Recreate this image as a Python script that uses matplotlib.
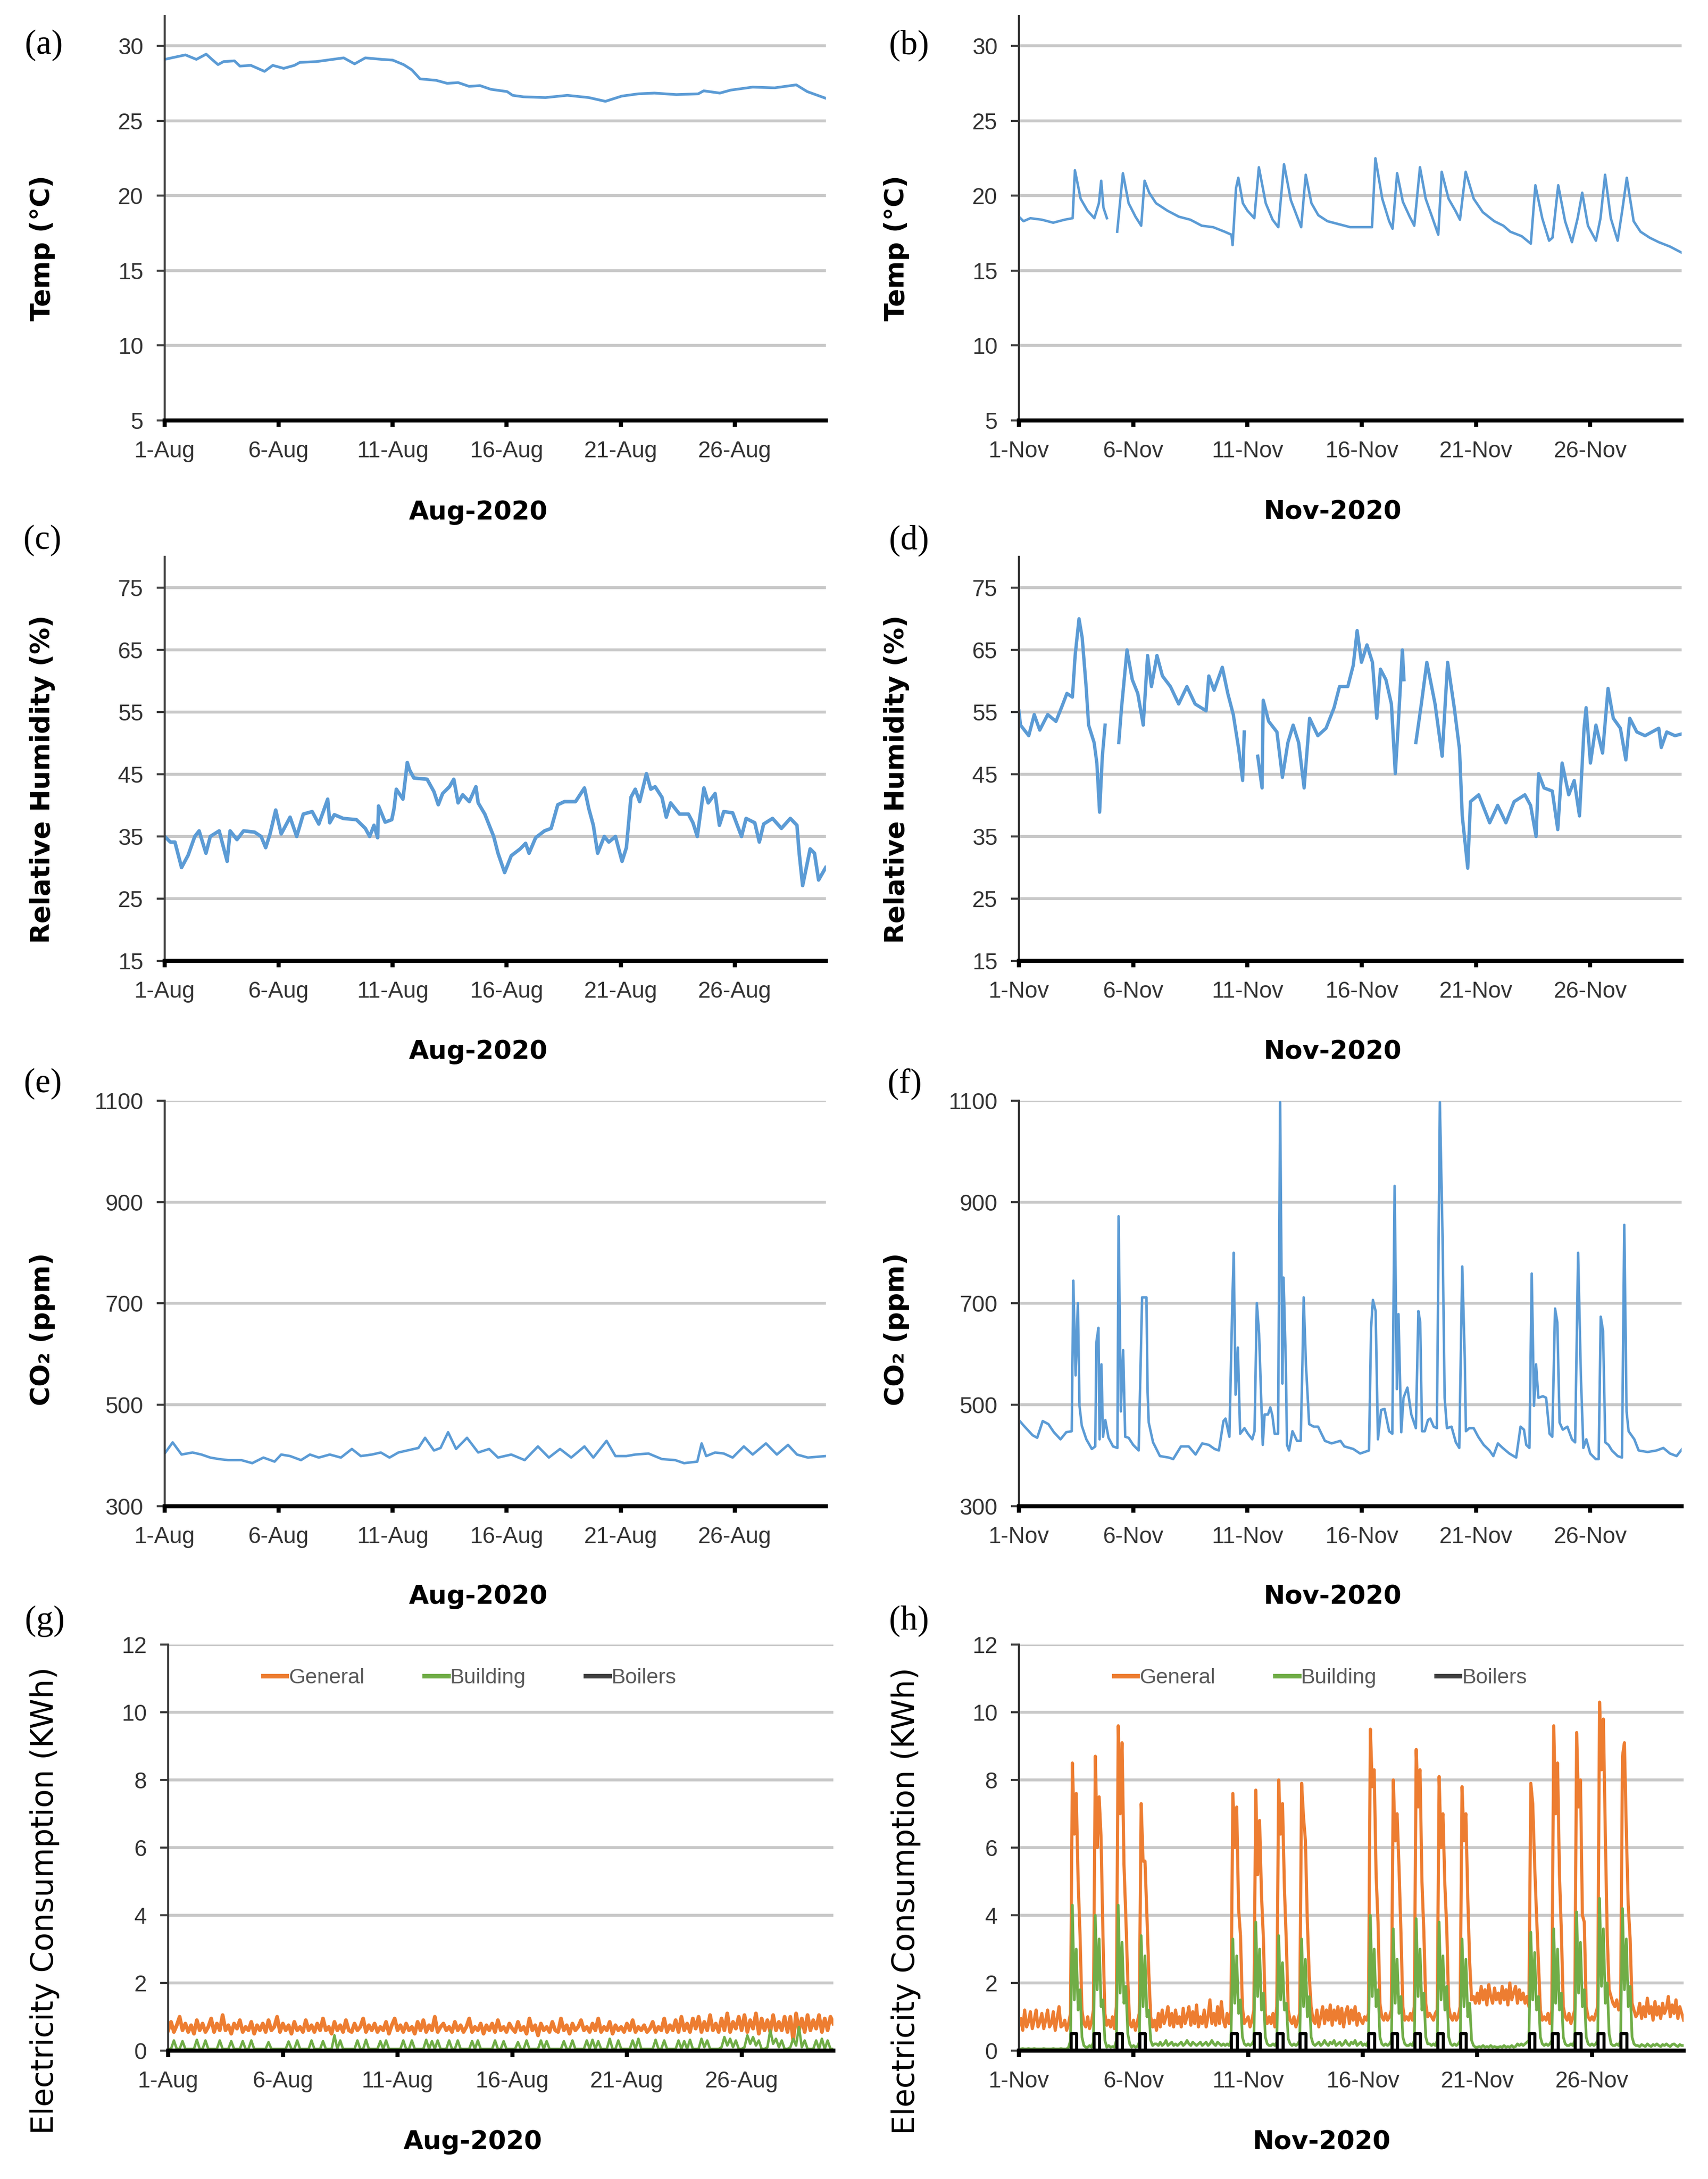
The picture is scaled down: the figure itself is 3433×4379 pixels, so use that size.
import numpy as np
import matplotlib
matplotlib.use('Agg')
import matplotlib.pyplot as plt
from matplotlib.lines import Line2D

nan = float('nan')

# ---------------- data (t = days since the 1st of the month, value) ----------------
temp_aug = [(0, 29.1), (0.91, 29.4), (1.39, 29.1), (1.82, 29.45), (2.11, 29.05), (2.34, 28.75),
            (2.58, 28.95), (3.06, 29.0), (3.30, 28.65), (3.78, 28.7), (4.38, 28.3), (4.74, 28.7),
            (5.22, 28.5), (5.69, 28.7), (5.93, 28.9), (6.65, 28.95), (7.13, 29.05), (7.85, 29.2),
            (8.33, 28.8), (8.80, 29.2), (9.52, 29.1), (10.0, 29.05), (10.48, 28.75), (10.84, 28.4),
            (11.2, 27.8), (11.91, 27.7), (12.39, 27.5), (12.87, 27.55), (13.35, 27.3), (13.83, 27.35),
            (14.31, 27.1), (15.02, 26.95), (15.26, 26.7), (15.74, 26.6), (16.7, 26.55), (17.66, 26.7),
            (18.6, 26.55), (19.33, 26.3), (20.05, 26.65), (20.77, 26.8), (21.48, 26.85), (22.44, 26.75),
            (23.4, 26.8), (23.64, 27.0), (24.35, 26.85), (24.83, 27.05), (25.79, 27.25), (26.75, 27.2),
            (27.7, 27.4), (28.18, 26.95), (29.0, 26.5)]

temp_nov = [(0, 18.6), (0.2, 18.3), (0.5, 18.5), (1.0, 18.4), (1.5, 18.2), (2.0, 18.4), (2.35, 18.5),
            (2.45, 21.7), (2.7, 19.8), (3.0, 19.0), (3.3, 18.5), (3.5, 19.5), (3.6, 21.0), (3.7, 19.2),
            (3.85, 18.5), (3.95, nan), (4.3, 17.6), (4.55, 21.5), (4.8, 19.5), (5.1, 18.6), (5.35, 18.0),
            (5.5, 21.0), (5.7, 20.2), (6.0, 19.5), (6.5, 19.0), (7.0, 18.6), (7.5, 18.4), (8.0, 18.0),
            (8.5, 17.9), (9.0, 17.6), (9.3, 17.4), (9.35, 16.7), (9.5, 20.5), (9.6, 21.2), (9.8, 19.5),
            (10.0, 19.0), (10.3, 18.5), (10.5, 21.9), (10.8, 19.5), (11.1, 18.4), (11.35, 17.9),
            (11.6, 22.1), (11.9, 19.7), (12.2, 18.5), (12.35, 17.9), (12.55, 21.4), (12.8, 19.5),
            (13.1, 18.7), (13.5, 18.3), (14.0, 18.1), (14.5, 17.9), (15.0, 17.9), (15.45, 17.9),
            (15.6, 22.5), (15.9, 19.8), (16.2, 18.3), (16.35, 17.8), (16.55, 21.5), (16.8, 19.6),
            (17.1, 18.6), (17.3, 18.0), (17.55, 21.9), (17.8, 19.8), (18.1, 18.5), (18.35, 17.4),
            (18.5, 21.6), (18.8, 19.8), (19.1, 19.0), (19.3, 18.4), (19.55, 21.6), (19.9, 19.8),
            (20.3, 18.9), (20.8, 18.3), (21.2, 18.0), (21.5, 17.6), (22.0, 17.3), (22.4, 16.8),
            (22.6, 20.7), (22.9, 18.5), (23.2, 17.0), (23.35, 17.2), (23.6, 20.7), (23.9, 18.3),
            (24.2, 16.9), (24.45, 18.5), (24.65, 20.2), (24.9, 18.0), (25.25, 17.0), (25.45, 18.5),
            (25.65, 21.4), (25.9, 18.5), (26.2, 17.0), (26.4, 19.0), (26.6, 21.2), (26.9, 18.3),
            (27.2, 17.6), (27.6, 17.2), (28.0, 16.9), (28.5, 16.6), (29.0, 16.2)]

rh_aug = [(0.00, 35.0), (0.25, 34.1), (0.45, 34.1), (0.74, 30.0), (1.03, 32.0), (1.32, 35.0), (1.51, 35.9),
          (1.81, 32.3), (2.00, 35.0), (2.39, 35.9), (2.74, 31.0), (2.87, 35.9), (3.17, 34.5), (3.46, 35.9),
          (3.94, 35.7), (4.23, 35.0), (4.43, 33.2), (4.62, 35.4), (4.87, 39.25), (5.11, 35.4), (5.50, 38.1),
          (5.79, 35.0), (6.08, 38.6), (6.47, 39.0), (6.76, 37.0), (7.15, 41.0), (7.24, 37.2), (7.44, 38.5),
          (7.83, 37.9), (8.41, 37.7), (8.80, 36.3), (8.99, 35.0), (9.18, 36.8), (9.34, 34.8), (9.38, 39.9),
          (9.67, 37.3), (9.96, 37.7), (10.06, 39.5), (10.16, 42.6), (10.45, 41.0), (10.64, 46.9),
          (10.74, 45.7), (10.93, 44.4), (11.51, 44.2), (11.81, 42.2), (12.00, 40.1), (12.19, 41.9),
          (12.49, 43.0), (12.68, 44.2), (12.87, 40.4), (13.07, 41.7), (13.36, 40.6), (13.65, 43.0),
          (13.75, 40.4), (14.04, 38.6), (14.43, 35.0), (14.62, 32.3), (14.91, 29.2), (15.20, 31.9),
          (15.59, 33.0), (15.83, 33.9), (15.98, 32.3), (16.27, 34.8), (16.66, 35.9), (16.95, 36.3),
          (17.24, 40.1), (17.53, 40.6), (18.02, 40.6), (18.41, 42.8), (18.60, 39.5), (18.80, 36.8),
          (18.99, 32.3), (19.28, 35.0), (19.48, 34.1), (19.77, 35.0), (20.06, 31.0), (20.25, 33.2),
          (20.45, 41.3), (20.64, 42.6), (20.83, 40.6), (21.13, 45.1), (21.32, 42.6), (21.51, 43.0),
          (21.81, 41.3), (22.00, 38.1), (22.19, 40.4), (22.58, 38.6), (22.97, 38.6), (23.17, 37.2),
          (23.36, 35.0), (23.65, 42.8), (23.84, 40.4), (24.14, 41.9), (24.33, 36.8), (24.52, 39.0),
          (24.91, 38.8), (25.30, 35.0), (25.50, 37.9), (25.88, 37.2), (26.08, 34.1), (26.27, 37.0),
          (26.66, 37.9), (27.05, 36.3), (27.44, 37.9), (27.73, 36.8), (27.83, 32.3), (27.98, 27.1),
          (28.31, 33.0), (28.50, 32.3), (28.68, 28.0), (28.99, 30.0)]

rh_nov = [(0.00, 55.2), (0.07, 52.9), (0.43, 51.2), (0.67, 54.6), (0.91, 52.1), (1.26, 54.6), (1.62, 53.5),
          (1.86, 55.7), (2.10, 58.0), (2.34, 57.4), (2.46, 64.1), (2.63, 70.0), (2.77, 66.9), (2.94, 59.1),
          (3.05, 52.9), (3.29, 50.1), (3.41, 46.8), (3.53, 38.9), (3.65, 47.9), (3.77, 52.9), (4.0, nan),
          (4.37, 50.1), (4.49, 55.7), (4.73, 65.0), (4.96, 60.2), (5.20, 58.0), (5.44, 52.9), (5.63, 64.1),
          (5.80, 59.1), (6.04, 64.1), (6.28, 60.8), (6.63, 59.1), (6.99, 56.3), (7.35, 59.1), (7.71, 56.3),
          (8.19, 55.2), (8.31, 60.8), (8.54, 58.5), (8.90, 62.2), (9.14, 58.0), (9.38, 54.6), (9.62, 49.0),
          (9.79, 44.0), (9.86, 51.8), (10.1, nan), (10.45, 47.9), (10.64, 42.8), (10.69, 56.9), (10.93, 53.5),
          (11.29, 51.8), (11.53, 44.5), (11.77, 50.1), (12.00, 52.9), (12.24, 50.1), (12.48, 42.8),
          (12.72, 54.0), (13.08, 51.2), (13.44, 52.4), (13.79, 55.7), (14.03, 59.1), (14.39, 59.1),
          (14.63, 62.5), (14.80, 68.1), (14.99, 63.0), (15.23, 65.8), (15.47, 63.0), (15.66, 54.0),
          (15.82, 61.9), (16.06, 60.2), (16.30, 56.3), (16.47, 45.1), (16.59, 52.4), (16.78, 65.0),
          (16.85, 60.2), (17.1, nan), (17.37, 50.1), (17.61, 56.3), (17.85, 63.0), (18.21, 56.3),
          (18.52, 47.9), (18.76, 63.0), (19.05, 55.7), (19.28, 49.0), (19.40, 38.3), (19.64, 29.9),
          (19.76, 40.6), (20.12, 41.7), (20.60, 37.2), (20.95, 40.0), (21.31, 37.2), (21.67, 40.6),
          (22.14, 41.7), (22.39, 40.0), (22.63, 35.0), (22.74, 45.1), (22.98, 42.8), (23.34, 42.3),
          (23.58, 36.1), (23.77, 46.8), (24.06, 41.7), (24.30, 44.0), (24.53, 38.3), (24.73, 52.4),
          (24.82, 55.7), (25.01, 46.8), (25.25, 52.9), (25.54, 48.4), (25.78, 58.8), (26.01, 54.0),
          (26.32, 52.4), (26.56, 47.3), (26.73, 54.0), (27.04, 51.8), (27.40, 51.2), (28.00, 52.4),
          (28.11, 49.3), (28.35, 51.8), (28.71, 51.2), (29.02, 51.5)]

co2_aug = [(0, 404), (0.35, 426), (0.74, 402), (1.22, 406), (1.61, 402), (2.00, 396), (2.39, 393),
           (2.78, 391), (3.36, 391), (3.84, 385), (4.33, 396), (4.82, 388), (5.11, 402), (5.50, 399),
           (5.98, 391), (6.37, 402), (6.76, 396), (7.24, 402), (7.73, 396), (8.21, 413), (8.60, 399),
           (9.09, 402), (9.48, 406), (9.86, 396), (10.25, 406), (10.93, 413), (11.13, 415), (11.42, 435),
           (11.81, 410), (12.10, 415), (12.43, 446), (12.78, 413), (13.26, 435), (13.75, 406), (14.23, 413),
           (14.62, 396), (15.20, 402), (15.79, 391), (16.37, 418), (16.85, 396), (17.34, 413), (17.83, 396),
           (18.41, 418), (18.80, 396), (19.38, 429), (19.77, 399), (20.25, 399), (20.64, 402), (21.22, 404),
           (21.81, 393), (22.39, 391), (22.78, 385), (23.36, 388), (23.55, 424), (23.75, 399), (24.14, 406),
           (24.52, 404), (24.91, 396), (25.40, 418), (25.79, 402), (26.37, 424), (26.85, 402), (27.34, 421),
           (27.73, 402), (28.21, 396), (28.99, 399)]

co2_nov = [(0, 470), (0.21, 459), (0.60, 440), (0.80, 435), (1.04, 468), (1.29, 462), (1.53, 446),
           (1.82, 432), (2.07, 446), (2.31, 448), (2.38, 745), (2.48, 558), (2.58, 701), (2.65, 498),
           (2.75, 459), (2.95, 432), (3.19, 413), (3.34, 418), (3.39, 624), (3.48, 652), (3.53, 432),
           (3.61, 580), (3.68, 437), (3.78, 470), (3.92, 435), (4.12, 418), (4.31, 415), (4.36, 872),
           (4.46, 487), (4.56, 608), (4.65, 437), (4.80, 435), (5.00, 421), (5.24, 410), (5.39, 712),
           (5.58, 712), (5.63, 525), (5.68, 465), (5.87, 426), (6.17, 399), (6.56, 396), (6.75, 393),
           (7.09, 418), (7.43, 418), (7.73, 402), (8.02, 424), (8.31, 421), (8.56, 413), (8.75, 410),
           (8.95, 468), (9.04, 473), (9.21, 437), (9.34, 707), (9.40, 800), (9.48, 520), (9.58, 613),
           (9.68, 443), (9.87, 454), (10.02, 443), (10.21, 432), (10.31, 448), (10.41, 701), (10.51, 641),
           (10.60, 514), (10.67, 421), (10.75, 481), (10.90, 481), (11.00, 495), (11.09, 479), (11.19, 443),
           (11.34, 443), (11.43, 1097), (11.53, 542), (11.58, 751), (11.68, 580), (11.73, 421), (11.82, 410),
           (11.97, 448), (12.17, 429), (12.33, 429), (12.41, 591), (12.46, 712), (12.56, 580), (12.70, 462),
           (12.90, 457), (13.09, 457), (13.39, 429), (13.68, 424), (14.07, 429), (14.24, 418), (14.63, 413),
           (14.93, 404), (15.32, 410), (15.41, 652), (15.49, 707), (15.61, 685), (15.71, 432), (15.85, 490),
           (16.00, 492), (16.20, 448), (16.34, 443), (16.44, 932), (16.54, 531), (16.61, 679), (16.73, 446),
           (16.83, 514), (17.00, 534), (17.17, 481), (17.37, 454), (17.48, 685), (17.56, 663), (17.64, 448),
           (17.76, 448), (17.90, 470), (18.00, 473), (18.15, 457), (18.29, 454), (18.42, 1097), (18.54, 828),
           (18.63, 514), (18.73, 454), (18.93, 457), (19.12, 426), (19.27, 415), (19.40, 773), (19.51, 591),
           (19.56, 448), (19.71, 454), (19.90, 454), (20.10, 437), (20.34, 421), (20.59, 410), (20.76, 399),
           (20.96, 424), (21.17, 415), (21.46, 404), (21.76, 396), (21.95, 457), (22.10, 451), (22.20, 421),
           (22.34, 415), (22.44, 759), (22.54, 498), (22.63, 580), (22.73, 514), (22.93, 517), (23.07, 514),
           (23.22, 443), (23.34, 437), (23.46, 690), (23.56, 663), (23.66, 465), (23.80, 451), (24.00, 457),
           (24.20, 432), (24.34, 426), (24.47, 800), (24.59, 558), (24.70, 415), (24.83, 432), (25.00, 404),
           (25.24, 393), (25.37, 393), (25.46, 674), (25.56, 646), (25.66, 426), (25.80, 421), (25.95, 410),
           (26.20, 399), (26.39, 396), (26.49, 855), (26.59, 487), (26.68, 448), (26.93, 432), (27.12, 410),
           (27.51, 407), (27.90, 410), (28.20, 415), (28.49, 404), (28.78, 399), (29.02, 413)]

# Electricity, August: one row per day, values every 3 hours (00,03,...,21 h) + final value
elec_aug_general = [
    [0.6, 0.85, 0.55, 0.75, 1.0, 0.6, 0.8, 0.55], [0.75, 0.5, 0.9, 0.6, 0.8, 0.55, 0.7, 0.95],
    [0.55, 0.8, 0.6, 1.05, 0.6, 0.75, 0.5, 0.8], [0.65, 0.9, 0.55, 0.7, 0.6, 0.85, 0.5, 0.75],
    [0.6, 0.8, 0.55, 0.9, 0.6, 0.7, 1.0, 0.55], [0.8, 0.6, 0.75, 0.5, 0.85, 0.6, 0.7, 0.55],
    [0.9, 0.6, 0.75, 0.55, 0.8, 0.6, 0.95, 0.6], [0.7, 0.5, 0.85, 0.6, 0.75, 0.55, 0.9, 0.6],
    [0.55, 0.8, 0.6, 0.7, 0.95, 0.55, 0.75, 0.6], [0.8, 0.55, 0.7, 0.6, 0.85, 0.5, 0.75, 0.95],
    [0.6, 0.75, 0.55, 0.8, 0.6, 0.7, 0.5, 0.85], [0.6, 0.9, 0.55, 0.75, 0.6, 1.0, 0.55, 0.7],
    [0.8, 0.6, 0.7, 0.55, 0.85, 0.6, 0.75, 0.55], [0.7, 0.95, 0.55, 0.7, 0.6, 0.8, 0.5, 0.75],
    [0.6, 0.8, 0.55, 0.9, 0.6, 0.7, 0.55, 0.8], [0.65, 0.55, 0.85, 0.6, 0.7, 0.5, 0.95, 0.6],
    [0.75, 0.45, 0.8, 0.6, 0.7, 0.55, 0.85, 0.6], [0.55, 0.95, 0.6, 0.75, 0.5, 0.8, 0.6, 0.7],
    [0.9, 0.6, 0.7, 0.55, 0.8, 0.6, 0.95, 0.55], [0.7, 0.6, 0.85, 0.5, 0.75, 0.6, 0.7, 0.55],
    [0.8, 0.6, 0.9, 0.55, 0.7, 0.6, 0.75, 0.55], [0.65, 0.85, 0.55, 0.7, 0.6, 0.95, 0.55, 0.75],
    [0.6, 0.9, 0.55, 1.0, 0.6, 0.8, 0.55, 0.95], [0.65, 1.0, 0.55, 0.85, 0.6, 1.05, 0.6, 0.8],
    [0.55, 0.95, 0.6, 1.1, 0.55, 0.85, 0.65, 1.0], [0.6, 1.05, 0.55, 0.9, 0.65, 1.1, 0.5, 0.95],
    [0.6, 0.9, 0.55, 1.05, 0.6, 0.85, 0.6, 1.0], [0.55, 1.0, 0.3, 1.1, 0.6, 0.95, 0.55, 1.05],
    [0.6, 0.9, 0.65, 1.05, 0.55, 0.95, 0.6, 1.0], [0.8]]
elec_aug_building = [
    [0.05, 0.05, 0.3, 0.05, 0.05, 0.28, 0.05, 0.05], [0.05, 0.05, 0.32, 0.05, 0.05, 0.3, 0.05, 0.05],
    [0.05, 0.05, 0.3, 0.05, 0.05, 0.05, 0.28, 0.05], [0.05, 0.05, 0.28, 0.05, 0.05, 0.3, 0.05, 0.05],
    [0.05, 0.05, 0.05, 0.25, 0.05, 0.05, 0.05, 0.05], [0.05, 0.05, 0.27, 0.05, 0.05, 0.3, 0.05, 0.05],
    [0.05, 0.05, 0.3, 0.05, 0.05, 0.05, 0.28, 0.05], [0.05, 0.05, 0.45, 0.05, 0.3, 0.05, 0.05, 0.05],
    [0.05, 0.05, 0.3, 0.05, 0.05, 0.32, 0.05, 0.05], [0.05, 0.05, 0.28, 0.05, 0.3, 0.05, 0.05, 0.05],
    [0.05, 0.05, 0.3, 0.05, 0.05, 0.3, 0.05, 0.05], [0.05, 0.05, 0.32, 0.05, 0.28, 0.05, 0.3, 0.05],
    [0.05, 0.05, 0.3, 0.05, 0.05, 0.3, 0.05, 0.05], [0.05, 0.05, 0.28, 0.05, 0.3, 0.05, 0.05, 0.05],
    [0.05, 0.05, 0.3, 0.05, 0.05, 0.28, 0.05, 0.05], [0.05, 0.05, 0.25, 0.05, 0.05, 0.3, 0.05, 0.05],
    [0.05, 0.05, 0.3, 0.05, 0.28, 0.05, 0.05, 0.05], [0.05, 0.05, 0.28, 0.05, 0.05, 0.3, 0.05, 0.05],
    [0.05, 0.05, 0.3, 0.05, 0.32, 0.05, 0.28, 0.05], [0.05, 0.05, 0.35, 0.05, 0.05, 0.3, 0.05, 0.05],
    [0.05, 0.05, 0.3, 0.05, 0.35, 0.05, 0.05, 0.05], [0.05, 0.05, 0.32, 0.05, 0.05, 0.3, 0.05, 0.05],
    [0.05, 0.05, 0.3, 0.05, 0.28, 0.05, 0.32, 0.05], [0.05, 0.05, 0.35, 0.1, 0.3, 0.05, 0.05, 0.05],
    [0.05, 0.1, 0.4, 0.15, 0.35, 0.1, 0.3, 0.05], [0.05, 0.1, 0.45, 0.2, 0.4, 0.15, 0.3, 0.05],
    [0.05, 0.1, 0.6, 0.2, 0.35, 0.1, 0.3, 0.05], [0.05, 0.1, 0.35, 0.15, 0.7, 0.1, 0.3, 0.05],
    [0.05, 0.05, 0.3, 0.05, 0.35, 0.05, 0.3, 0.05], [0.05]]
elec_aug_boilers = [(0, 0.0), (29, 0.0)]

# Electricity, November: one row per day, values every 2 hours (00,02,...,22 h) + final value
elec_nov_general = [
    [0.75, 0.95, 0.6, 1.2, 0.7, 0.85, 1.15, 0.65, 0.9, 1.2, 0.7, 0.85],
    [1.1, 0.65, 0.9, 1.2, 0.7, 0.8, 1.15, 0.6, 0.95, 1.3, 0.7, 0.75],
    [0.9, 0.6, 0.8, 1.1, 8.5, 6.4, 7.6, 5.0, 3.4, 1.2, 0.8, 0.7],
    [1.0, 0.65, 0.85, 1.2, 8.7, 6.0, 7.5, 6.3, 3.4, 1.1, 0.75, 0.9],
    [0.7, 1.0, 0.65, 1.3, 9.6, 7.0, 9.1, 5.5, 3.9, 2.1, 0.8, 0.7],
    [0.9, 0.6, 0.85, 1.1, 7.3, 5.6, 5.6, 4.0, 2.3, 1.0, 0.7, 0.9],
    [0.6, 1.1, 0.7, 1.2, 0.8, 1.0, 1.3, 0.75, 1.1, 0.7, 1.2, 0.8],
    [1.0, 0.7, 1.25, 0.8, 1.0, 1.3, 0.75, 1.15, 0.8, 1.35, 0.7, 1.0],
    [0.8, 1.2, 0.7, 1.0, 1.5, 0.8, 1.1, 0.75, 1.3, 0.8, 1.45, 0.9],
    [0.7, 1.1, 0.8, 1.2, 7.6, 6.0, 7.2, 4.2, 3.4, 1.3, 0.8, 0.9],
    [1.0, 0.7, 0.9, 1.2, 7.7, 5.2, 6.8, 4.6, 3.3, 1.1, 0.8, 1.0],
    [0.8, 1.1, 0.7, 1.3, 8.0, 6.4, 7.3, 4.8, 3.2, 1.2, 0.9, 0.8],
    [1.0, 0.7, 0.9, 1.1, 7.9, 6.9, 6.2, 3.8, 2.2, 1.3, 0.9, 0.8],
    [1.2, 0.7, 1.0, 1.3, 0.8, 1.2, 0.9, 1.35, 0.75, 1.2, 0.9, 1.3],
    [0.8, 1.25, 0.7, 1.1, 1.3, 0.8, 1.2, 0.9, 1.3, 0.75, 1.1, 0.9],
    [0.8, 1.0, 0.9, 1.1, 9.5, 7.8, 8.3, 5.2, 3.8, 1.4, 1.0, 0.9],
    [1.1, 0.9, 1.0, 1.2, 8.0, 6.2, 7.0, 5.4, 3.5, 1.3, 0.9, 1.0],
    [0.9, 1.1, 0.9, 1.3, 8.9, 7.2, 8.3, 5.0, 3.5, 1.4, 1.0, 1.1],
    [1.0, 0.9, 1.1, 1.2, 8.1, 6.0, 7.0, 4.9, 3.6, 1.3, 1.0, 0.9],
    [1.1, 0.9, 1.0, 1.3, 7.8, 6.2, 7.0, 4.5, 2.6, 1.5, 1.6, 1.4],
    [1.7, 1.4, 1.9, 1.5, 1.8, 1.35, 1.95, 1.6, 1.4, 1.85, 1.5, 1.7],
    [1.4, 1.9, 1.5, 1.8, 1.35, 2.0, 1.5, 1.7, 1.9, 1.4, 1.8, 1.5],
    [1.7, 1.4, 1.6, 1.3, 7.9, 7.3, 5.5, 4.0, 2.6, 1.2, 0.9, 1.0],
    [0.9, 1.1, 0.8, 1.2, 9.6, 7.0, 8.5, 5.2, 3.5, 1.3, 1.0, 0.9],
    [1.1, 0.8, 1.0, 1.2, 9.4, 7.2, 8.0, 4.0, 3.8, 1.3, 1.0, 0.9],
    [1.0, 0.9, 1.1, 1.3, 10.3, 8.3, 9.8, 6.4, 3.4, 1.8, 1.6, 1.4],
    [1.3, 1.5, 1.2, 1.4, 8.7, 9.1, 6.5, 4.3, 3.3, 1.4, 1.2, 1.0],
    [1.1, 1.4, 0.95, 1.3, 1.0, 1.55, 1.1, 1.3, 0.9, 1.45, 1.05, 1.3],
    [0.95, 1.4, 1.1, 1.25, 1.6, 1.0, 1.35, 1.1, 1.5, 0.95, 1.3, 1.1],
    [0.9]]
elec_nov_building = [
    [0.05, 0.05, 0.06, 0.05, 0.05, 0.06, 0.05, 0.05, 0.06, 0.05, 0.05, 0.05],
    [0.05, 0.06, 0.05, 0.05, 0.05, 0.05, 0.06, 0.05, 0.05, 0.05, 0.06, 0.05],
    [0.05, 0.05, 0.1, 0.3, 4.3, 1.5, 3.0, 1.2, 1.8, 0.4, 0.15, 0.1],
    [0.1, 0.15, 0.1, 0.25, 4.0, 1.8, 3.3, 1.3, 1.5, 0.3, 0.1, 0.15],
    [0.1, 0.12, 0.1, 0.3, 4.3, 1.7, 3.2, 1.4, 1.9, 0.5, 0.2, 0.1],
    [0.15, 0.1, 0.12, 0.25, 3.4, 1.3, 2.8, 1.0, 1.2, 0.3, 0.15, 0.2],
    [0.2, 0.15, 0.25, 0.15, 0.2, 0.3, 0.15, 0.2, 0.25, 0.15, 0.2, 0.15],
    [0.2, 0.25, 0.15, 0.2, 0.3, 0.2, 0.15, 0.25, 0.2, 0.15, 0.2, 0.25],
    [0.15, 0.2, 0.25, 0.15, 0.2, 0.3, 0.2, 0.15, 0.25, 0.2, 0.15, 0.2],
    [0.15, 0.2, 0.15, 0.3, 3.3, 1.4, 2.8, 1.1, 1.5, 0.4, 0.2, 0.15],
    [0.2, 0.15, 0.2, 0.3, 3.8, 1.6, 3.0, 1.2, 1.7, 0.4, 0.2, 0.15],
    [0.15, 0.2, 0.15, 0.25, 3.4, 1.5, 2.6, 1.2, 1.4, 0.35, 0.2, 0.15],
    [0.2, 0.15, 0.2, 0.3, 3.3, 1.3, 2.7, 1.0, 1.6, 0.4, 0.2, 0.15],
    [0.2, 0.25, 0.15, 0.2, 0.3, 0.2, 0.15, 0.25, 0.2, 0.3, 0.15, 0.2],
    [0.25, 0.15, 0.2, 0.3, 0.2, 0.15, 0.25, 0.2, 0.3, 0.15, 0.2, 0.25],
    [0.15, 0.2, 0.15, 0.3, 4.0, 1.6, 3.0, 1.3, 1.8, 0.4, 0.2, 0.15],
    [0.2, 0.15, 0.2, 0.3, 3.6, 1.4, 2.7, 1.1, 1.6, 0.4, 0.2, 0.15],
    [0.15, 0.2, 0.15, 0.3, 3.9, 1.6, 3.0, 1.2, 1.7, 0.4, 0.2, 0.2],
    [0.15, 0.2, 0.15, 0.3, 3.8, 1.5, 2.8, 1.2, 1.9, 0.4, 0.2, 0.15],
    [0.2, 0.15, 0.2, 0.3, 3.3, 1.3, 2.7, 1.0, 1.4, 0.3, 0.15, 0.1],
    [0.1, 0.12, 0.1, 0.15, 0.1, 0.12, 0.1, 0.15, 0.1, 0.12, 0.1, 0.1],
    [0.12, 0.1, 0.15, 0.1, 0.12, 0.1, 0.15, 0.1, 0.12, 0.2, 0.15, 0.2],
    [0.15, 0.2, 0.25, 0.3, 3.5, 1.5, 2.9, 1.2, 1.6, 0.4, 0.2, 0.15],
    [0.2, 0.15, 0.2, 0.3, 3.6, 1.4, 3.0, 1.2, 1.7, 0.4, 0.2, 0.15],
    [0.15, 0.2, 0.15, 0.3, 4.1, 1.7, 3.2, 1.3, 1.8, 0.4, 0.2, 0.15],
    [0.2, 0.15, 0.2, 0.3, 4.5, 1.9, 3.6, 1.4, 2.0, 0.5, 0.2, 0.15],
    [0.15, 0.2, 0.15, 0.3, 4.2, 1.8, 3.3, 1.3, 1.9, 0.4, 0.2, 0.15],
    [0.15, 0.12, 0.18, 0.15, 0.12, 0.2, 0.15, 0.12, 0.18, 0.15, 0.2, 0.15],
    [0.12, 0.18, 0.15, 0.2, 0.15, 0.12, 0.18, 0.2, 0.15, 0.12, 0.18, 0.15],
    [0.15]]
boiler_days_nov = [2, 3, 4, 5, 9, 10, 11, 12, 15, 16, 17, 18, 19, 22, 23, 24, 25, 26]
boiler_on, boiler_off, boiler_level = 0.27, 0.52, 0.5

x_ticks = [0, 5, 10, 15, 20, 25]
tick_days = [1, 6, 11, 16, 21, 26]

# ---------------- figure ----------------
W, H, DPI = 3433, 4379, 300
BLUE, ORANGE, GREEN = '#5B9BD5', '#ED7D31', '#70AD47'
plt.rcParams['font.family'] = ['Liberation Sans', 'DejaVu Sans']

fig = plt.figure(figsize=(W / DPI, H / DPI), dpi=DPI)


def px_axes(left, right, top, bottom):
    return fig.add_axes([left / W, 1 - bottom / H, (right - left) / W, (bottom - top) / H])


def style(ax, ylim, yticks, month):
    ax.set_xlim(0, 29)
    ax.set_ylim(*ylim)
    ax.set_yticks(yticks)
    ax.set_xticks(x_ticks)
    ax.set_xticklabels([f'{d}-{month}' for d in tick_days])
    for s in ('top', 'right'):
        ax.spines[s].set_visible(False)
    ax.spines['left'].set_color('#3a3a3a')
    ax.spines['left'].set_linewidth(1.0)
    ax.spines['bottom'].set_color('black')
    ax.spines['bottom'].set_linewidth(2.0)
    ax.yaxis.grid(True, color='#c8c8c8', lw=1.4)
    ax.set_axisbelow(True)
    ax.tick_params(axis='y', direction='out', length=3.8, width=1.0, color='#3a3a3a',
                   pad=6.5, labelsize=11, labelcolor='#333333')
    ax.tick_params(axis='x', direction='out', length=3.0, width=2.0, color='black',
                   pad=6.5, labelsize=11, labelcolor='#333333')


def series(pairs):
    t = np.array([p[0] for p in pairs], dtype=float)
    v = np.array([p[1] for p in pairs], dtype=float)
    return t, v


def grid_series(rows, per_day):
    v = np.array([x for r in rows for x in r], dtype=float)
    t = np.arange(len(v)) / per_day
    return t, v


cols = {'L': (331, 1660), 'R': (2048, 3380)}
rows = [(32, 845), (1118.5, 1931), (2212, 3027), (3305, 4121)]

# Row 1: temperature
axa = px_axes(*cols['L'], *rows[0])
style(axa, (5, 32), [5, 10, 15, 20, 25, 30], 'Aug')
axa.plot(*series(temp_aug), color=BLUE, lw=1.3)
axb = px_axes(*cols['R'], *rows[0])
style(axb, (5, 32), [5, 10, 15, 20, 25, 30], 'Nov')
axb.plot(*series(temp_nov), color=BLUE, lw=1.2)

# Row 2: relative humidity
axc = px_axes(*cols['L'], *rows[1])
style(axc, (15, 80), [15, 25, 35, 45, 55, 65, 75], 'Aug')
axc.plot(*series(rh_aug), color=BLUE, lw=1.7)
axd = px_axes(*cols['R'], *rows[1])
style(axd, (15, 80), [15, 25, 35, 45, 55, 65, 75], 'Nov')
axd.plot(*series(rh_nov), color=BLUE, lw=1.6)

# Row 3: CO2
axe = px_axes(*cols['L'], *rows[2])
style(axe, (300, 1100), [300, 500, 700, 900, 1100], 'Aug')
axe.plot(*series(co2_aug), color=BLUE, lw=1.2)
axf = px_axes(*cols['R'], *rows[2])
style(axf, (300, 1100), [300, 500, 700, 900, 1100], 'Nov')
axf.plot(*series(co2_nov), color=BLUE, lw=1.2)

# Row 4: electricity
axg = px_axes(338, 1675, *rows[3])
style(axg, (0, 12), [0, 2, 4, 6, 8, 10, 12], 'Aug')
axg.plot(*grid_series(elec_aug_general, 8), color=ORANGE, lw=1.8)
axg.plot(*grid_series(elec_aug_building, 8), color=GREEN, lw=1.2)
axg.plot(*series(elec_aug_boilers), color='black', lw=1.4)

axh = px_axes(2048, 3384, *rows[3])
style(axh, (0, 12), [0, 2, 4, 6, 8, 10, 12], 'Nov')
axh.plot(*grid_series(elec_nov_general, 12), color=ORANGE, lw=1.5)
axh.plot(*grid_series(elec_nov_building, 12), color=GREEN, lw=1.3)
bt, bv = [0.0], [0.0]
for d in boiler_days_nov:
    bt += [d + boiler_on, d + boiler_on, d + boiler_off, d + boiler_off]
    bv += [0.0, boiler_level, boiler_level, 0.0]
bt.append(29.0)
bv.append(0.0)
axh.plot(bt, bv, color='black', lw=1.5)

for ax in (axg, axh):
    handles = [Line2D([], [], color=ORANGE, lw=2.2), Line2D([], [], color=GREEN, lw=2.2),
               Line2D([], [], color='#404040', lw=2.2)]
    ax.legend(handles, ['General', 'Building', 'Boilers'], ncol=3, loc='center left',
              bbox_to_anchor=(0.143, 0.918), frameon=False, fontsize=10.3, handlelength=1.1,
              handletextpad=0.1, columnspacing=2.8, borderpad=0, borderaxespad=0,
              labelcolor='#595959')


def ftext(x, y, s, **kw):
    fig.text(x / W, 1 - y / H, s, ha='center', va='center', **kw)


# panel letters
plab = dict(family=['Liberation Serif', 'DejaVu Serif'], fontsize=16.5, color='black')
for s, x, y in [('(a)', 88, 91), ('(b)', 1827, 91), ('(c)', 85, 1086), ('(d)', 1827, 1086),
                ('(e)', 86, 2178), ('(f)', 1818, 2178), ('(g)', 90, 3258), ('(h)', 1827, 3258)]:
    ftext(x, y, s, **plab)

# y-axis titles
ylab = dict(family=['DejaVu Sans'], fontsize=12.8, fontweight='bold', rotation=90, color='black')
ftext(85, 499, 'Temp (°C)', **ylab)
ftext(1802, 499, 'Temp (°C)', **ylab)
ftext(85, 1566, 'Relative Humidity (%)', **ylab)
ftext(1802, 1566, 'Relative Humidity (%)', **ylab)
ftext(85, 2671, 'CO₂ (ppm)', **ylab)
ftext(1802, 2671, 'CO₂ (ppm)', **ylab)
elab = dict(family=['DejaVu Sans'], fontsize=14.8, rotation=90, color='black')
ftext(90, 3819, 'Electricity Consumption (KWh)', **elab)
ftext(1821, 3820, 'Electricity Consumption (KWh)', **elab)

# x-axis titles
xlab = dict(family=['DejaVu Sans'], fontsize=12.4, fontweight='bold', color='black')
for y in (1030, 2114, 3209):
    ftext(961, y, 'Aug-2020', **xlab)
    ftext(2678, y, 'Nov-2020', **xlab)
ftext(950, 4305, 'Aug-2020', **xlab)
ftext(2656, 4305, 'Nov-2020', **xlab)

fig.savefig('out.png', dpi=DPI)
